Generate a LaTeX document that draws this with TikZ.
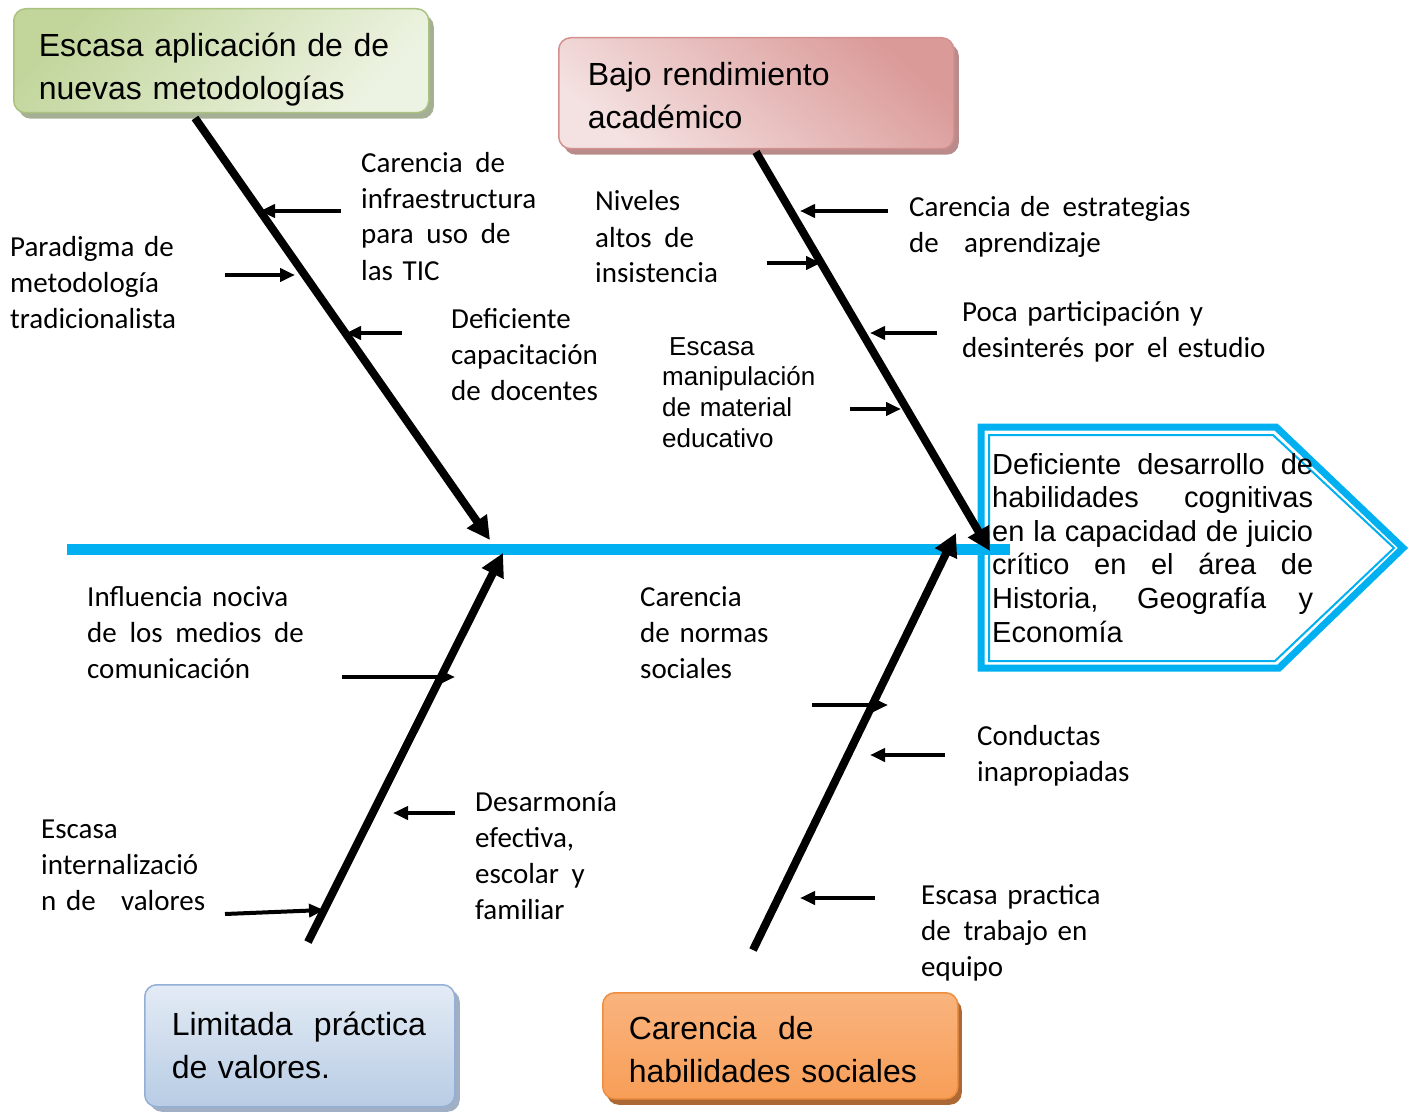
\documentclass[tikz,border=0pt]{standalone}
\usepackage{fontspec}
\setmainfont{Liberation Sans}
\newfontfamily\carlito{Carlito}
\usetikzlibrary{arrows.meta,shadows}
\definecolor{cyanline}{HTML}{00B0F0}
\definecolor{gA}{HTML}{C2D69C}
\definecolor{gB}{HTML}{EDF3E2}
\definecolor{gD}{HTML}{A9C27F}
\definecolor{gS}{HTML}{8E9B7A}
\definecolor{rA}{HTML}{DA9A98}
\definecolor{rB}{HTML}{F4E1E1}
\definecolor{rD}{HTML}{D48F8F}
\definecolor{rS}{HTML}{A86F6E}
\definecolor{bA}{HTML}{E3EBF5}
\definecolor{bB}{HTML}{B8CCE4}
\definecolor{bD}{HTML}{93AFD6}
\definecolor{bS}{HTML}{8A9BB5}
\definecolor{oA}{HTML}{F9B47E}
\definecolor{oB}{HTML}{F79444}
\definecolor{oC}{HTML}{F89E58}
\definecolor{oD}{HTML}{EE8E3E}
\definecolor{oS}{HTML}{9E4F12}
\newcommand{\wsp}{\ \hspace{3pt}}
\begin{document}
\begin{tikzpicture}[x=1pt,y=-1pt,
  causebox/.style={draw, line width=1.5pt, rounded corners=12pt, inner ysep=0pt,
    align=left, anchor=north west, font=\fontsize{32}{43}\selectfont},
  lbl/.style={font=\carlito\fontsize{29}{36}\selectfont, inner sep=0pt, align=left, anchor=base west},
  lblsans/.style={font=\fontsize{26}{30.7}\selectfont, inner sep=0pt, align=left, anchor=base west},
  bigbone/.style={line width=8pt, -{Triangle[length=23pt,width=23pt]}},
  smallarr/.style={line width=4pt, -{Triangle[length=15pt,width=13pt]}}]
\useasboundingbox (0,0) rectangle (1409,1113);

% effect box
\coordinate (o1) at (981,427);
\coordinate (o2) at (1276,427);
\coordinate (o3) at (1403,548);
\coordinate (o4) at (1279,668);
\coordinate (o5) at (981,668);
\coordinate (i1) at (989,435);
\coordinate (i2) at (1273,435);
\coordinate (i3) at (1394,548);
\coordinate (i4) at (1275,661);
\coordinate (i5) at (989,661);
\draw[cyanline, line width=7pt] (o1) -- (o2) -- (o3) -- (o4) -- (o5) -- cycle;
\draw[cyanline, line width=2pt] (i1) -- (i2) -- (i3) -- (i4) -- (i5) -- cycle;
\node[inner sep=0pt, anchor=base west, text width=321pt, align=justify,
  font=\fontsize{29}{33.6}\selectfont] (efecto) at (992,474)
  {Deficiente desarrollo de\linebreak habilidades cognitivas\linebreak en la capacidad de juicio\linebreak cr\'itico en el \'area de\linebreak Historia, Geograf\'ia y\linebreak Econom\'ia};

% spine
\coordinate (sp1) at (67,549);
\coordinate (sp2) at (1010,549);
\draw[cyanline, line width=11pt] (sp1) -- (sp2);

% cause boxes
\node[causebox, top color=gA, bottom color=gB, shading angle=45, draw=gD,
  drop shadow={shadow xshift=5pt, shadow yshift=-6pt, fill=gS, opacity=0.8},
  text width=365pt, inner xsep=25pt, text height=48pt, text depth=56pt] (c1) at (13,8)
  {Escasa aplicaci\'on de de\\nuevas metodolog\'ias};
\node[causebox, top color=rA, bottom color=rB, shading angle=-40, draw=rD,
  drop shadow={shadow xshift=5pt, shadow yshift=-6pt, fill=rS, opacity=0.8},
  text width=337pt, inner xsep=29pt, text height=48pt, text depth=63pt] (c2) at (558,37)
  {Bajo rendimiento\\acad\'emico};
\node[causebox, top color=bA, bottom color=bB, draw=bD,
  drop shadow={shadow xshift=5pt, shadow yshift=-5pt, fill=bS, opacity=0.8},
  text width=256pt, inner xsep=27pt, text height=51pt, text depth=71pt] (c3) at (144,984)
  {Limitada~ pr\'actica\\de valores.};
\node[causebox, top color=oA, middle color=oB, bottom color=oC, draw=oD,
  drop shadow={shadow xshift=4pt, shadow yshift=-6pt, fill=oS, opacity=0.85},
  text width=303pt, inner xsep=26pt, text height=47pt, text depth=59pt] (c4) at (602,992)
  {Carencia~ de\\habilidades sociales};

% main bones
\coordinate (b1s) at (195,118);
\coordinate (b1e) at (490,540);
\coordinate (b2s) at (756,152);
\coordinate (b2e) at (990,551);
\coordinate (b3s) at (308,942);
\coordinate (b3e) at (503,553);
\coordinate (b4s) at (753,950);
\coordinate (b4e) at (956,533);
\draw[bigbone] (b1s) -- (b1e);
\draw[bigbone] (b2s) -- (b2e);
\draw[bigbone] (b3s) -- (b3e);
\draw[bigbone] (b4s) -- (b4e);

% small arrows, bone 1
\coordinate (a1s) at (341,211); \coordinate (a1e) at (260,211);
\coordinate (a2s) at (225,275); \coordinate (a2e) at (295,275);
\coordinate (a3s) at (402,333); \coordinate (a3e) at (346,333);
% bone 2
\coordinate (a4s) at (888,211); \coordinate (a4e) at (800,211);
\coordinate (a5s) at (767,263); \coordinate (a5e) at (821,263);
\coordinate (a6s) at (937,333); \coordinate (a6e) at (870,333);
\coordinate (a7s) at (850,409); \coordinate (a7e) at (901,409);
% bone 3
\coordinate (a8s) at (342,677); \coordinate (a8e) at (455,677);
\coordinate (a9s) at (455,813); \coordinate (a9e) at (393,813);
\coordinate (a10s) at (225,914); \coordinate (a10e) at (324,910);
% bone 4
\coordinate (a11s) at (812,705); \coordinate (a11e) at (888,705);
\coordinate (a12s) at (945,755); \coordinate (a12e) at (870,755);
\coordinate (a13s) at (875,898); \coordinate (a13e) at (800,898);
\foreach \i in {1,...,13} { \draw[smallarr] (a\i s) -- (a\i e); }

% labels
\node[lbl, text width=190pt] (l1) at (361,172)
  {Carencia\wsp de\\infraestructura\\para\wsp uso\wsp de\\las TIC};
\node[lbl, text width=180pt] (l2) at (10,256)
  {Paradigma de\\metodolog\'ia\\tradicionalista};
\node[lbl, text width=160pt] (l3) at (451,328)
  {Deficiente\\capacitaci\'on\\de docentes};
\node[lbl, text width=135pt] (l4) at (595,211)
  {Niveles\\altos\wsp de\\insistencia};
\node[lbl, text width=300pt] (l5) at (909,216)
  {Carencia de\wsp estrategias\\de\wsp\wsp aprendizaje};
\node[lbl, text width=315pt] (l6) at (962,321)
  {Poca participaci\'on y\\desinter\'es por\wsp el estudio};
\node[lblsans, text width=170pt] (l7) at (662,355)
  {\hspace*{7pt}Escasa\\manipulaci\'on\\de material\\educativo};
\node[lbl, text width=235pt] (l8) at (87,606)
  {Influencia nociva\\de\wsp los\wsp medios\wsp de\\comunicaci\'on};
\node[lbl, text width=140pt] (l9) at (640,606)
  {Carencia\\de normas\\sociales};
\node[lbl, text width=165pt] (l10) at (977,745)
  {Conductas\\inapropiadas};
\node[lbl, text width=200pt] (l11) at (41,838)
  {Escasa\\internalizaci\'o\\n de\wsp\wsp valores};
\node[lbl, text width=155pt] (l12) at (475,811)
  {Desarmon\'ia\\efectiva,\\escolar\wsp y\\familiar};
\node[lbl, text width=190pt] (l13) at (921,904)
  {Escasa practica\\de\wsp trabajo en\\equipo};
\end{tikzpicture}
\end{document}
